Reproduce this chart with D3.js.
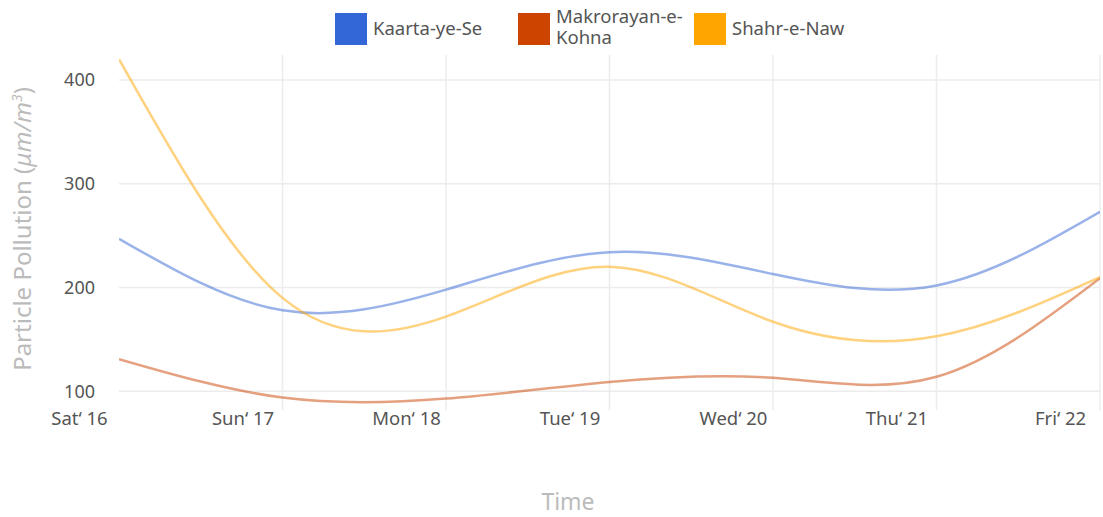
<!DOCTYPE html>
<html>
<head>
<meta charset="utf-8">
<script src="https://cdn.jsdelivr.net/npm/d3@7"></script>
<style>
  body { margin: 0; background: #fff; }
  text { font-family: "Noto Sans", sans-serif; }
</style>
</head>
<body>
<script>
var days = ["Sat‘ 16", "Sun‘ 17", "Mon‘ 18", "Tue‘ 19", "Wed‘ 20", "Thu‘ 21", "Fri‘ 22"];
var kaarta = [247, 178, 198, 234, 213, 202, 273];
var makrorayan = [131, 94, 93, 109, 113, 114, 209];
var shahr = [420, 190, 172, 220, 167, 153, 210];
var yTicks = [100, 200, 300, 400];

var series = [
  {name: "Kaarta-ye-Se", values: kaarta, color: "#3366d6"},
  {name: "Makrorayan-e-\nKohna", values: makrorayan, color: "#cc4400"},
  {name: "Shahr-e-Naw", values: shahr, color: "#ffa500"}
];

var width = 1103, height = 517;
var plotLeft = 119, plotRight = 1100, plotTop = 55, plotBottom = 410;

var svg = d3.select("body").append("svg")
    .attr("width", width)
    .attr("height", height);

var x = d3.scalePoint()
    .domain(days)
    .range([plotLeft, plotRight]);

var y = d3.scaleLinear()
    .domain([82, 424])
    .range([plotBottom, plotTop]);

// grid
svg.append("g")
  .selectAll("line")
  .data(yTicks)
  .enter().append("line")
    .attr("x1", plotLeft).attr("x2", plotRight)
    .attr("y1", function(d){ return y(d); })
    .attr("y2", function(d){ return y(d); })
    .attr("stroke", "#ececec")
    .attr("stroke-width", 1.5);

svg.append("g")
  .selectAll("line")
  .data(days.slice(1))
  .enter().append("line")
    .attr("x1", function(d){ return x(d); })
    .attr("x2", function(d){ return x(d); })
    .attr("y1", plotTop).attr("y2", plotBottom)
    .attr("stroke", "#ececec")
    .attr("stroke-width", 1.5);

// axes (text only)
var yAxis = d3.axisLeft(y).tickValues(yTicks).tickSize(0).tickPadding(0);
var gy = svg.append("g")
    .attr("transform", "translate(95,0)")
    .call(yAxis);
gy.select(".domain").remove();
gy.selectAll("text")
    .attr("font-family", "Noto Sans")
    .attr("font-size", 18)
    .attr("fill", "#555");

var xAxis = d3.axisBottom(x).tickSize(0).tickPadding(0);
var gx = svg.append("g")
    .attr("transform", "translate(-40,412)")
    .call(xAxis);
gx.select(".domain").remove();
gx.selectAll("text")
    .attr("font-family", "Noto Sans")
    .attr("font-size", 18.5)
    .attr("fill", "#555");

// lines
svg.append("clipPath").attr("id", "clip")
  .append("rect")
    .attr("x", plotLeft).attr("y", plotTop)
    .attr("width", plotRight - plotLeft).attr("height", plotBottom - plotTop);

var line = d3.line()
    .x(function(d, i){ return x(days[i]); })
    .y(function(d){ return y(d); })
    .curve(d3.curveNatural);

svg.append("g")
    .attr("clip-path", "url(#clip)")
  .selectAll("path")
  .data(series)
  .enter().append("path")
    .attr("d", function(s){ return line(s.values); })
    .attr("fill", "none")
    .attr("stroke", function(s){ return s.color; })
    .attr("stroke-width", 2.5)
    .attr("stroke-opacity", 0.5);

// legend
var legendX = [335, 518, 694];
var legend = svg.append("g")
  .selectAll("g")
  .data(series)
  .enter().append("g")
    .attr("transform", function(s, i){ return "translate(" + legendX[i] + ",13)"; });

legend.append("rect")
    .attr("width", 32).attr("height", 32)
    .attr("fill", function(s){ return s.color; });

legend.each(function(s){
  var lines = s.name.split("\n");
  var t = d3.select(this).append("text")
      .attr("x", 38)
      .attr("font-size", 18.5)
      .attr("fill", "#555");
  lines.forEach(function(l, j){
    t.append("tspan")
      .attr("x", 38)
      .attr("y", lines.length == 1 ? 22 : 10 + j * 21)
      .text(l);
  });
});

// axis titles
svg.append("text")
    .attr("x", 568).attr("y", 510)
    .attr("text-anchor", "middle")
    .attr("font-size", 23)
    .attr("fill", "#bbb")
    .text("Time");

var yt = svg.append("text")
    .attr("transform", "translate(31,229) rotate(-90)")
    .attr("text-anchor", "middle")
    .attr("font-size", 24)
    .attr("fill", "#bbb");
yt.append("tspan").text("Particle Pollution (");
yt.append("tspan").attr("font-style", "italic").text("μm/m");
yt.append("tspan").attr("font-style", "italic").attr("font-size", 14).attr("dy", -9).text("3");
yt.append("tspan").attr("dy", 9).text(")");
</script>
</body>
</html>
